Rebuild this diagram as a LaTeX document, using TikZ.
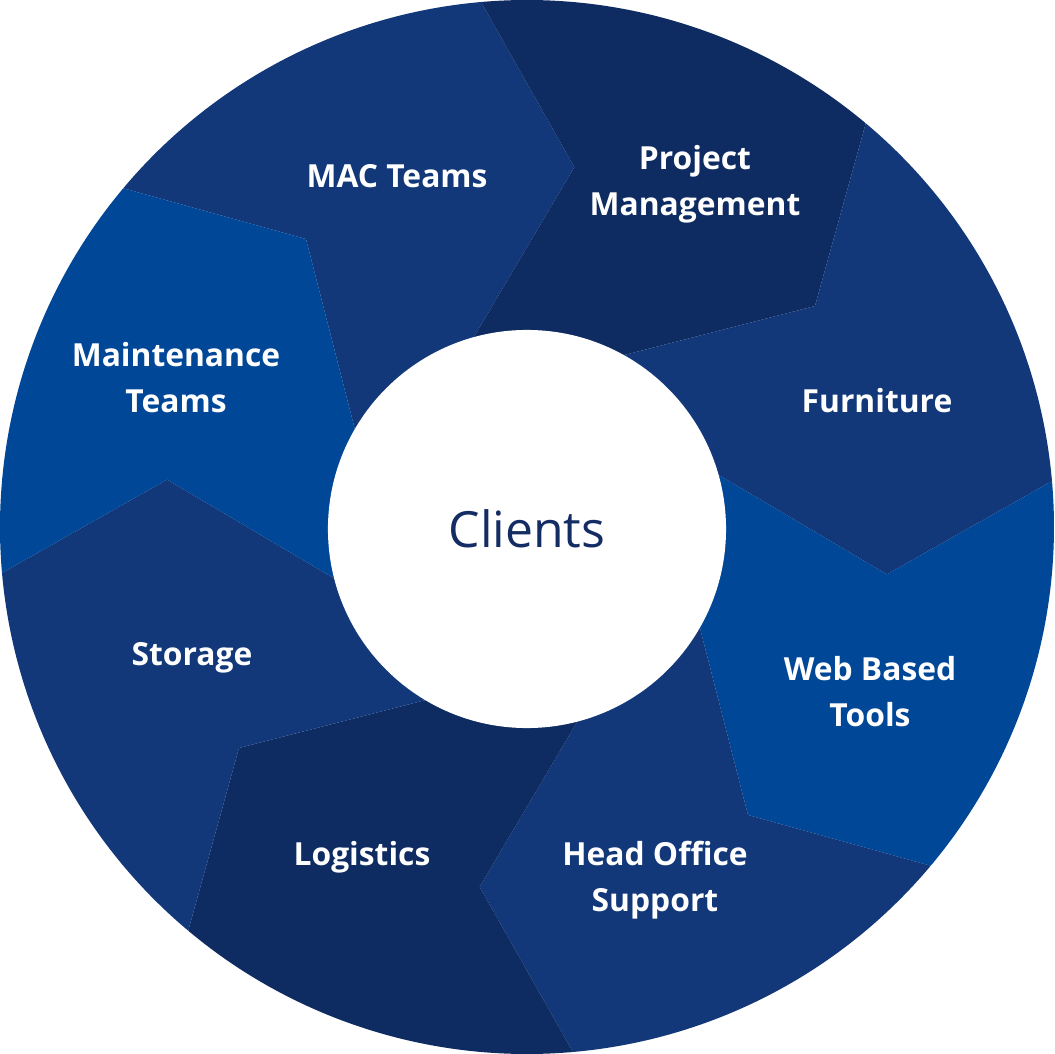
\documentclass[tikz,border=0pt]{standalone}
\usepackage{fontspec}
\setsansfont{Open Sans}
\usepackage{xcolor}
\usetikzlibrary{positioning}
\definecolor{midblue}{RGB}{18,56,122}
\definecolor{darkblue}{RGB}{14,43,98}
\definecolor{brightblue}{RGB}{0,71,152}
\definecolor{hubtext}{RGB}{20,44,100}

\begin{document}
\begin{tikzpicture}[
  x=0.025cm,y=0.025cm,
  segtext/.style={text=white,align=center,
    font=\sffamily\bfseries\fontsize{22.6}{32.7}\selectfont},
  hub/.style={circle,fill=white,inner sep=0pt,minimum size=9.95cm,
    text=hubtext,font=\sffamily\fontsize{35.5}{44}\selectfont}
]
\useasboundingbox (-527,-527) rectangle (528,527);
% ring of chevron segments, clockwise from MAC Teams
\foreach \a/\c in {140/midblue,95/darkblue,50/midblue,5/brightblue,
                   -40/midblue,-85/darkblue,-130/midblue,-175/brightblue}{
  \pgfmathsetmacro\b{\a-45}
  \fill[\c] (\a:527) arc[start angle=\a,end angle=\b,radius=527]
    -- (\b-12.5:363) -- (\b+11:196) -- (0,0)
    -- (\a+11:196) -- (\a-12.5:363) -- cycle;
}
\node[hub] (clients) at (0,-2) {Clients};

\node[segtext] (mac)   at (-130,351) {MAC Teams};
\node[segtext] (pm)    at (168,343)  {Project\\Management};
\node[segtext] (furn)  at (350,126)  {Furniture};
\node[segtext] (web)   at (343,-165) {Web Based\\Tools};
\node[segtext] (hos)   at (128,-353) {Head Office\\Support};
\node[segtext] (logi)  at (-165,-330) {Logistics};
\node[segtext] (stor)  at (-335,-131) {Storage};
\node[segtext] (maint) at (-351,149) {Maintenance\\Teams};
\end{tikzpicture}
\end{document}
